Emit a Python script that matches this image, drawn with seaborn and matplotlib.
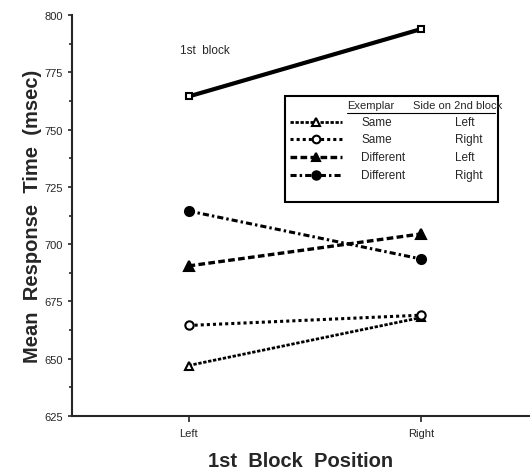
import pandas as pd
import matplotlib.pyplot as plt
import seaborn as sns
from matplotlib.lines import Line2D
from matplotlib.patches import Rectangle
from matplotlib.ticker import MultipleLocator

sns.set_theme(style="ticks")
plt.rcParams['font.family'] = ['Liberation Sans', 'DejaVu Sans']

# Data
positions = ['Left', 'Right']
first_block = [764.5, 794]
same_left = [647, 668]
same_right = [664.5, 669]
diff_left = [690.5, 704.5]
diff_right = [714.5, 693.5]

exemplar = ['Same', 'Same', 'Different', 'Different']
side_2nd = ['Left', 'Right', 'Left', 'Right']

series = {
    '1st block': first_block,
    'Same Left': same_left,
    'Same Right': same_right,
    'Different Left': diff_left,
    'Different Right': diff_right,
}
rows = []
for name, vals in series.items():
    for i, v in enumerate(vals):
        rows.append({'cond': name, 'pos': i, 'rt': v})
df = pd.DataFrame(rows)

styles = {
    '1st block': dict(ls='-', lw=3.0, marker='s', ms=4, mfc='white'),
    'Same Left': dict(ls=(0, (1.2, 0.6)), lw=2.0, marker='^', ms=6, mfc='white'),
    'Same Right': dict(ls=(0, (1, 1)), lw=2.2, marker='o', ms=6, mfc='white'),
    'Different Left': dict(ls=(0, (2, 1)), lw=2.4, marker='^', ms=6.5, mfc='black'),
    'Different Right': dict(ls=(0, (2, 1, 0.8, 1)), lw=2.2, marker='o', ms=6.5, mfc='black'),
}

fig = plt.figure(figsize=(5.3, 4.77), dpi=100)
ax = fig.add_axes([0.136, 0.126, 0.864, 0.840])

for name in series:
    st = styles[name]
    sub = df[df['cond'] == name]
    sns.lineplot(data=sub, x='pos', y='rt', ax=ax, color='black',
                 linestyle=st['ls'], linewidth=st['lw'], marker=st['marker'],
                 markersize=st['ms'], markerfacecolor=st['mfc'],
                 markeredgecolor='black', markeredgewidth=1.5)

ax.set_xlim(-0.5, 1.466)
ax.set_ylim(625, 800)
ax.set_xticks([0, 1])
ax.set_xticklabels(positions, fontsize=8)
ax.yaxis.set_major_locator(MultipleLocator(25))
ax.yaxis.set_minor_locator(MultipleLocator(12.5))
ax.tick_params(axis='y', labelsize=8, length=3, width=1.2, direction='out')
ax.tick_params(axis='y', which='minor', length=2, width=1.2)
ax.tick_params(axis='x', length=4, width=1.2, direction='out', pad=5)
ax.spines['top'].set_visible(False)
ax.spines['right'].set_visible(False)
ax.spines['left'].set_linewidth(1.5)
ax.spines['bottom'].set_linewidth(1.5)

ax.set_xlabel('1st  Block  Position', fontsize=14.5, fontweight='bold', labelpad=9)
ax.set_ylabel('Mean  Response  Time  (msec)', fontsize=14.5, fontweight='bold', labelpad=2)

ax.text(0.235, 0.905, '1st  block', transform=ax.transAxes, fontsize=8.5)

# Hand-built legend box
tr = ax.transAxes
ax.add_patch(Rectangle((0.465, 0.534), 0.465, 0.264, transform=tr,
                       fill=True, facecolor='white', edgecolor='black',
                       linewidth=1.5, zorder=5))
ax.text(0.6, 0.775, 'Exemplar', transform=tr, fontsize=8, va='center', zorder=6)
ax.text(0.744, 0.775, 'Side on 2nd block', transform=tr, fontsize=8, va='center', zorder=6)
ax.add_line(Line2D([0.6, 0.924], [0.757, 0.757], transform=tr, color='black', lw=0.8, zorder=6))

legend_keys = ['Same Left', 'Same Right', 'Different Left', 'Different Right']
row_y = [0.734, 0.690, 0.645, 0.600]
for key, ex, sd, y in zip(legend_keys, exemplar, side_2nd, row_y):
    st = styles[key]
    ax.add_line(Line2D([0.475, 0.59], [y, y], transform=tr, color='black',
                       linestyle=st['ls'], linewidth=st['lw'], zorder=6))
    ax.add_line(Line2D([0.532], [y], transform=tr, color='black', linestyle='none',
                       marker=st['marker'], markersize=st['ms'] - 0.5,
                       markerfacecolor=st['mfc'], markeredgecolor='black',
                       markeredgewidth=1.5, zorder=7))
    ax.text(0.632, y, ex, transform=tr, fontsize=8.5, va='center', zorder=6)
    ax.text(0.836, y, sd, transform=tr, fontsize=8.5, va='center', zorder=6)

fig.savefig('out.png', dpi=100)
